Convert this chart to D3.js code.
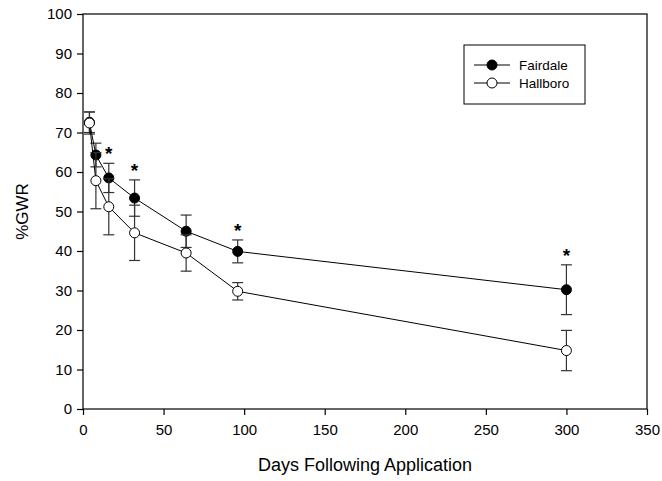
<!DOCTYPE html>
<html>
<head>
<meta charset="utf-8">
<script src="https://cdn.jsdelivr.net/npm/d3@7"></script>
<style>
  html, body { margin: 0; padding: 0; background: #fff; }
  svg { display: block; font-family: "Liberation Sans", Arial, sans-serif; }
</style>
</head>
<body>
<svg id="chart" width="662" height="481"></svg>
<script>
// Sampling days after application
const days = [4, 8, 16, 32, 64, 96, 300];

// Mean %GWR per site and standard error
const fairdaleMean = [72.6, 64.3, 58.5, 53.4, 45.0, 39.9, 30.2];
const fairdaleErr  = [2.6, 3.0, 3.7, 4.6, 4.1, 2.9, 6.3];
const hallboroMean = [72.4, 57.8, 51.2, 44.6, 39.5, 29.8, 14.8];
const hallboroErr  = [2.8, 7.1, 7.1, 7.0, 4.6, 2.2, 5.1];

// Days where the sites differ significantly
const signifDays = [16, 32, 96, 300];

const xTicks = [0, 50, 100, 150, 200, 250, 300, 350];
const yTicks = [0, 10, 20, 30, 40, 50, 60, 70, 80, 90, 100];

const seriesNames = ["Fairdale", "Hallboro"];

const svg = d3.select("#chart");
const margin = { left: 83, right: 15, top: 14, bottom: 72 };
const W = 662, H = 481;

const x = d3.scaleLinear().domain([0, 350]).range([margin.left, W - margin.right]);
const y = d3.scaleLinear().domain([0, 100]).range([H - margin.bottom, margin.top]);

// Frame
svg.append("rect")
  .attr("x", x(0)).attr("y", y(100))
  .attr("width", x(350) - x(0)).attr("height", y(0) - y(100))
  .attr("fill", "none").attr("stroke", "#000").attr("stroke-width", 1.2);

// Axes
const xAxis = svg.append("g")
  .attr("transform", `translate(0,${y(0)})`)
  .call(d3.axisBottom(x).tickValues(xTicks).tickSize(6).tickPadding(9));
const yAxis = svg.append("g")
  .attr("transform", `translate(${x(0)},0)`)
  .call(d3.axisLeft(y).tickValues(yTicks).tickSize(6).tickPadding(5));
[xAxis, yAxis].forEach(g => {
  g.select(".domain").remove();
  g.selectAll("line").attr("stroke", "#000").attr("stroke-width", 1.2);
  g.selectAll("text").attr("font-size", 15).attr("fill", "#000")
    .attr("font-family", "'Liberation Sans', Arial, sans-serif");
});

// Axis titles
svg.append("text")
  .attr("x", (x(0) + x(350)) / 2).attr("y", 471)
  .attr("text-anchor", "middle").attr("font-size", 18)
  .text("Days Following Application");
svg.append("text")
  .attr("transform", `translate(28,${(y(0) + y(100)) / 2}) rotate(-90)`)
  .attr("text-anchor", "middle").attr("font-size", 17)
  .text("%GWR");

const series = [
  { name: seriesNames[0], mean: fairdaleMean, err: fairdaleErr, fill: "#000" },
  { name: seriesNames[1], mean: hallboroMean, err: hallboroErr, fill: "#fff" }
];

const line = d3.line().x(d => x(d.day)).y(d => y(d.v));

// Each site: error bars, connecting line, then markers
series.forEach(s => {
  const pts = days.map((d, i) => ({ day: d, v: s.mean[i], e: s.err[i] }));
  const g = svg.append("g");
  const eb = g.append("g").attr("stroke", "#333").attr("stroke-width", 1.2);
  pts.forEach(p => {
    eb.append("line").attr("x1", x(p.day)).attr("x2", x(p.day))
      .attr("y1", y(p.v - p.e)).attr("y2", y(p.v + p.e));
    [p.v - p.e, p.v + p.e].forEach(v => {
      eb.append("line").attr("x1", x(p.day) - 5.5).attr("x2", x(p.day) + 5.5)
        .attr("y1", y(v)).attr("y2", y(v));
    });
  });
  g.append("path").datum(pts).attr("d", line)
    .attr("fill", "none").attr("stroke", "#000").attr("stroke-width", 1);
  g.selectAll("circle").data(pts).join("circle")
    .attr("cx", p => x(p.day)).attr("cy", p => y(p.v)).attr("r", 5)
    .attr("fill", s.fill).attr("stroke", "#000").attr("stroke-width", 1);
});

// Significance markers above Fairdale error bars
signifDays.forEach(d => {
  const i = days.indexOf(d);
  svg.append("text")
    .attr("x", x(d)).attr("y", y(fairdaleMean[i] + fairdaleErr[i]) + 1)
    .attr("dy", -4)
    .attr("text-anchor", "middle").attr("font-size", 19).attr("font-weight", "bold")
    .text("*");
});

// Legend
const lg = svg.append("g");
lg.append("rect").attr("x", 464).attr("y", 45).attr("width", 121).attr("height", 59)
  .attr("fill", "#fff").attr("stroke", "#000").attr("stroke-width", 1);
series.forEach((s, i) => {
  const yy = 65 + i * 18;
  lg.append("line").attr("x1", 474).attr("x2", 510).attr("y1", yy).attr("y2", yy)
    .attr("stroke", "#000").attr("stroke-width", 1);
  lg.append("circle").attr("cx", 492).attr("cy", yy).attr("r", 5)
    .attr("fill", s.fill).attr("stroke", "#000");
  lg.append("text").attr("x", 519).attr("y", yy).attr("dy", "0.35em")
    .attr("font-size", 13.5).text(s.name);
});
</script>
</body>
</html>
